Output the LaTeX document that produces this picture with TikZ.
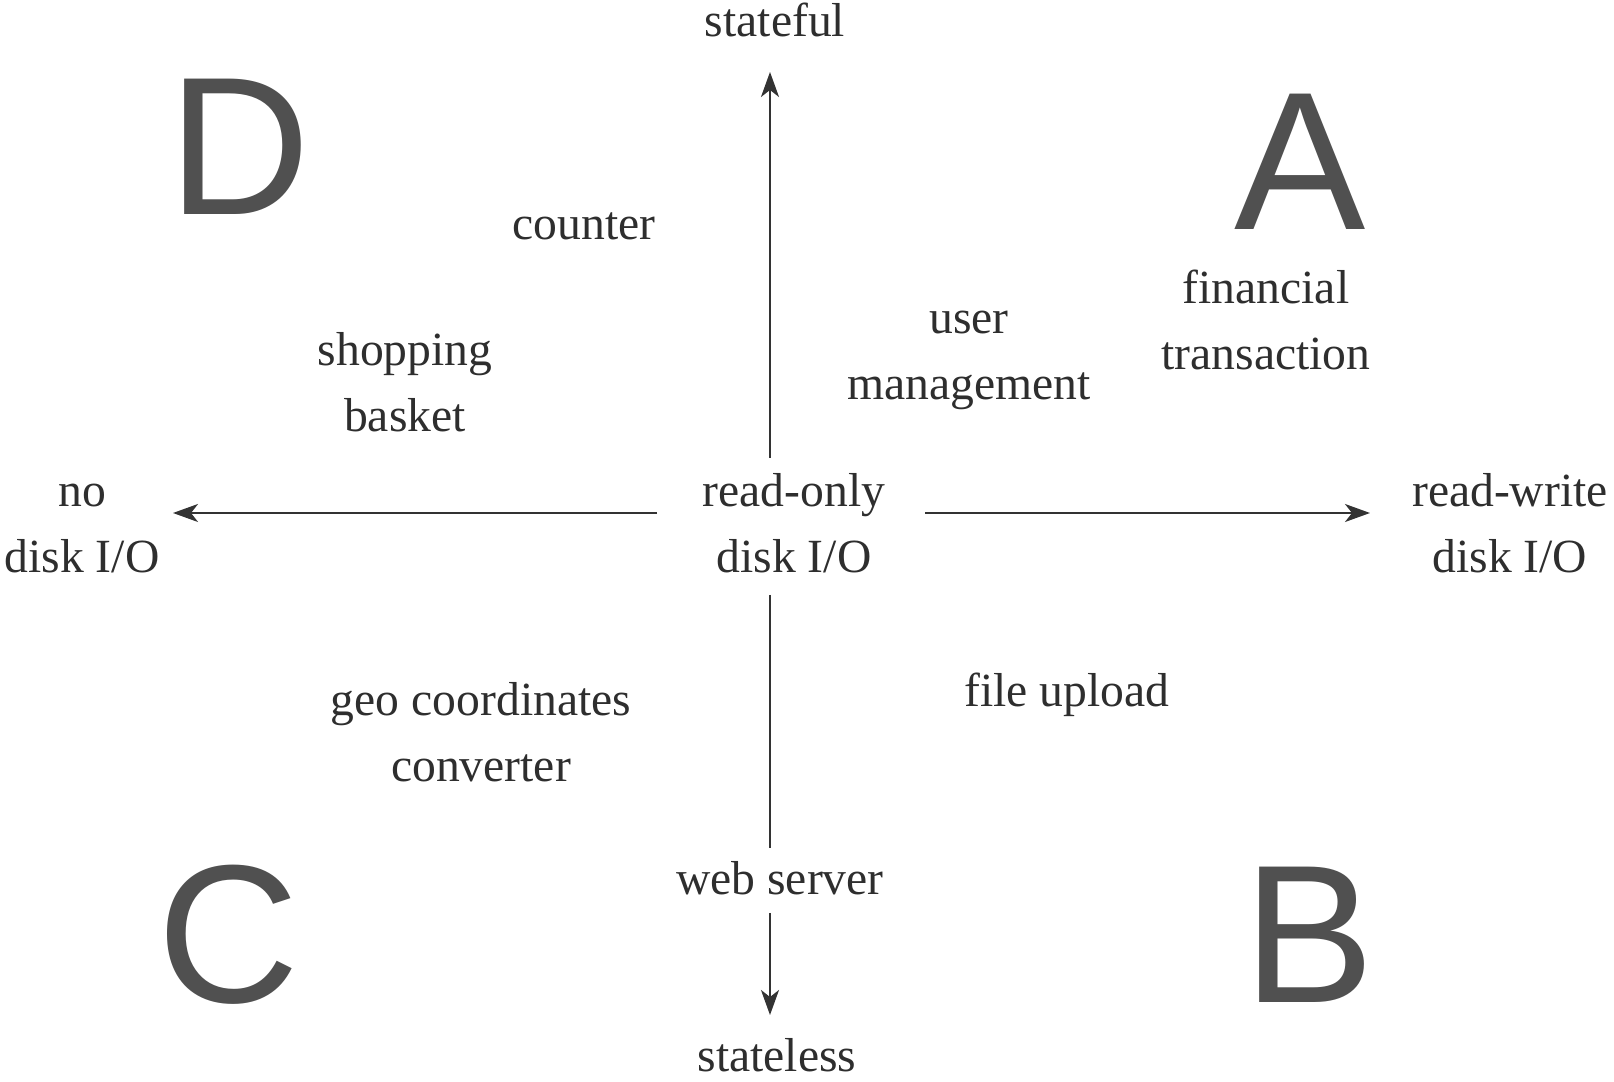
\documentclass[tikz,border=0pt]{standalone}
\usepackage{fontspec}
\setmainfont{Liberation Serif}
\newfontfamily\bigletterfont{Liberation Sans}
\usetikzlibrary{arrows.meta}
\definecolor{inkc}{HTML}{2E2E2E}
\definecolor{letterc}{HTML}{505050}
\definecolor{linec}{HTML}{333333}
\begin{document}
\begin{tikzpicture}[x=0.1mm,y=-0.1mm,
  lbl/.style={anchor=base,inner sep=0pt,align=center,text=inkc,
    font=\fontsize{13.55}{18.8}\selectfont},
  quad/.style={anchor=base,inner sep=0pt,text=letterc,
    font=\bigletterfont\fontsize{56}{60}\selectfont},
  axis/.style={draw=linec,line width=0.55pt},
  arr/.style={axis,-{Stealth[length=2.5mm,width=1.8mm,inset=0.7mm]}}]
\useasboundingbox[fill=white] (0,0) rectangle (1614,1082);
% quadrant letters
\node[quad] (D) at (240,215) {D};
\node[quad] (A) at (1300,230) {A};
\node[quad] (C) at (229,1003) {C};
\node[quad] (B) at (1309,1003) {B};
% axis labels (multi-line nodes are placed at their last baseline)
\node[lbl] (sf) at (775,37) {stateful};
\node[lbl] (sl) at (777,1072) {stateless};
\node[lbl] (ro) at (794,573) {read-only\\disk I/O};
\node[lbl] (no) at (82,573) {no\\disk I/O};
\node[lbl] (rw) at (1510,573) {read-write\\disk I/O};
% examples
\node[lbl] (counter) at (584,240) {counter};
\node[lbl] (shop) at (405,432) {shopping\\basket};
\node[lbl] (user) at (969,400) {user\\management};
\node[lbl] (fin) at (1266,370) {financial\\transaction};
\node[lbl] (geo) at (481,782) {geo coordinates\\converter};
\node[lbl] (file) at (1067,707) {file upload};
\node[lbl] (web) at (780,895) {web server};
% connector end points
\coordinate (roN) at (770,458);
\coordinate (sfS) at (770,72);
\coordinate (roS) at (770,595);
\coordinate (webN) at (770,848);
\coordinate (webS) at (770,913);
\coordinate (slN) at (770,1015);
\coordinate (roW) at (657,513);
\coordinate (noE) at (173,513);
\coordinate (roE) at (925,513);
\coordinate (rwW) at (1370,513);
% axes
\draw[arr] (roN) -- (sfS);
\draw[axis] (roS) -- (webN);
\draw[arr] (webS) -- (slN);
\draw[arr] (roW) -- (noE);
\draw[arr] (roE) -- (rwW);
\end{tikzpicture}
\end{document}
